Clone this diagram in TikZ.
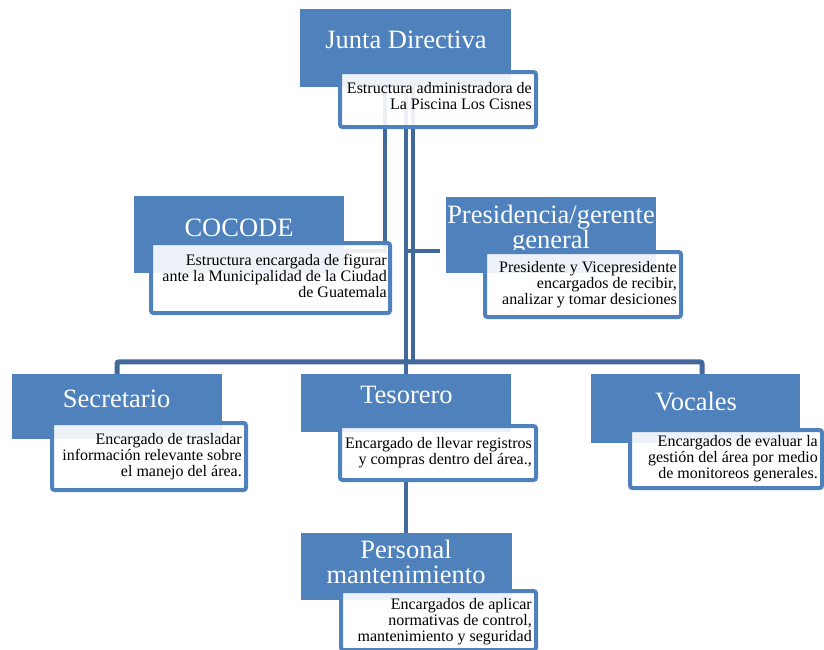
\documentclass[tikz,border=0pt]{standalone}
\usepackage{fontspec}
\setmainfont{Liberation Serif}
\usetikzlibrary{backgrounds}
\definecolor{boxblue}{HTML}{4F81BD}
\definecolor{linkblue}{HTML}{41699C}
\newcommand\rtlines[1]{\vtop{\baselineskip=16pt\lineskiplimit=-30pt\halign{\hfil##\cr#1\crcr}}}
\newcommand\ctlines[1]{\vtop{\baselineskip=25pt\lineskiplimit=-30pt\halign{\hfil##\hfil\cr#1\crcr}}}
\begin{document}
\begin{tikzpicture}[x=1pt,y=-1pt,
  headbox/.style={fill=boxblue, draw=none, inner sep=0pt},
  descbox/.style={fill=white, fill opacity=0.9, draw=boxblue, line width=4pt, rounded corners=2.5pt, inner sep=0pt},
  headtext/.style={text=white, font=\fontsize{26.5}{25}\selectfont, inner sep=0pt, anchor=base},
  desctext/.style={text=black, font=\fontsize{16}{16}\selectfont, inner sep=0pt, anchor=base east},
  link/.style={draw=linkblue, line width=4pt},
  bus/.style={draw=linkblue, line width=5pt, rounded corners=2pt}]
\useasboundingbox (0,0) rectangle (824,649);
\clip (0,0) rectangle (824,649);
% blue title boxes
\node[headbox, minimum width=211pt, minimum height=78pt] (junta) at (405.5,48) {};
\node[headbox, minimum width=210pt, minimum height=77pt] (cocode) at (239,234.5) {};
\node[headbox, minimum width=210pt, minimum height=76pt] (presid) at (551,235) {};
\node[headbox, minimum width=210pt, minimum height=65pt] (secre) at (117,406.5) {};
\node[headbox, minimum width=210pt, minimum height=58pt] (tesor) at (406,403) {};
\node[headbox, minimum width=209pt, minimum height=69pt] (vocal) at (695.5,408.5) {};
\node[headbox, minimum width=211pt, minimum height=67pt] (person) at (406.5,566.5) {};
% titles
\node[headtext] (tjunta) at (406,48) {Junta Directiva};
\node[headtext] (tcocode) at (239,236) {COCODE};
\node[headtext] (tpresid) at (551,223) {\ctlines{Presidencia/gerente\cr general}};
\node[headtext] (tsecre) at (116.7,407) {Secretario};
\node[headtext] (ttesor) at (406.5,403) {Tesorero};
\node[headtext] (tvocal) at (696,410) {Vocales};
\node[headtext] (tperson) at (406,558) {\ctlines{Personal\cr mantenimiento}};
% white description boxes
\node[descbox, minimum width=196pt, minimum height=55pt] (jw) at (438,99.5) {};
\node[descbox, minimum width=239pt, minimum height=70pt] (cw) at (270.5,278) {};
\node[descbox, minimum width=196pt, minimum height=65pt] (pw) at (583,284.5) {};
\node[descbox, minimum width=194pt, minimum height=67pt] (sw) at (149,456.5) {};
\node[descbox, minimum width=196pt, minimum height=54pt] (tw) at (438,453) {};
\node[descbox, minimum width=192pt, minimum height=58pt] (vw) at (726,459) {};
\node[descbox, minimum width=195pt, minimum height=59pt] (mw) at (438.5,620.5) {};
% descriptions
\node[desctext] (djunta) at (532,93) {\rtlines{Estructura administradora de\cr La Piscina Los Cisnes}};
\node[desctext] (dcocode) at (387,265) {\rtlines{Estructura encargada de figurar\cr ante la Municipalidad de la Ciudad\cr de Guatemala}};
\node[desctext] (dpresid) at (677,272.5) {\rtlines{Presidente y Vicepresidente\cr encargados de recibir,\cr analizar y tomar desiciones}};
\node[desctext] (dsecre) at (242,444) {\rtlines{Encargado de trasladar\cr información relevante sobre\cr el manejo del área.}};
\node[desctext] (dtesor) at (532,448) {\rtlines{Encargado de llevar registros\cr y compras dentro del área.,}};
\node[desctext] (dvocal) at (818,446) {\rtlines{Encargados de evaluar la\cr gestión del área por medio\cr de monitoreos generales.}};
\node[desctext] (dperson) at (532,609) {\rtlines{Encargados de aplicar\cr normativas de control,\cr mantenimiento y seguridad}};
% connectors
\coordinate (jA) at ([xshift=-21pt]junta.south);
\coordinate (jB) at (junta.south);
\coordinate (jC) at ([xshift=7pt]junta.south);
\coordinate (cend) at ([yshift=-16.5pt]cocode.east);
\coordinate (pstub) at ([xshift=-6pt,yshift=-16pt]presid.west);
\coordinate (busy) at ([yshift=12pt]secre.north);
\coordinate (vdrop) at ([xshift=6.5pt]vocal.north);
\begin{pgfonlayer}{background}
\draw[link] (jA) |- (cend);
\draw[link] (jB |- pstub) -- (pstub);
\draw[link] (jB) -- (jB |- tesor.north);
\draw[link] (jC) -- (jC |- busy);
\draw[bus] (secre.north) -- (busy) -- (busy -| vdrop) -- (vdrop);
\draw[link] (jB |- tw.south) -- (jB |- person.north);
\end{pgfonlayer}
\end{tikzpicture}
\end{document}
